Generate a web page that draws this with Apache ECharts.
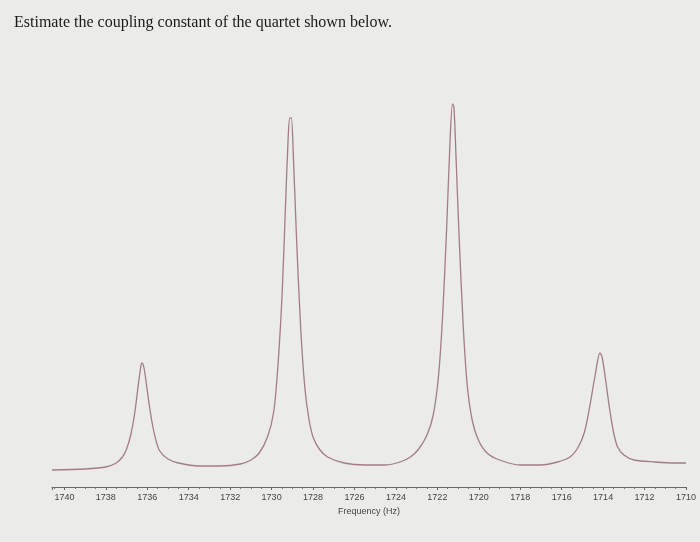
<!DOCTYPE html>
<html><head><meta charset="utf-8">
<script src="https://cdn.jsdelivr.net/npm/echarts@6/dist/echarts.min.js"></script>
<style>html,body{margin:0;padding:0;background:#ebebe9;}#c{width:700px;height:542px;}</style>
</head><body><div id="c"></div>
<script>
const title = "Estimate the coupling constant of the quartet shown below.";
const axisName = "Frequency (Hz)";
const freq = [1740.6,1739,1738,1737.5,1737.2,1737,1736.8,1736.6,1736.45,1736.3,1736.25,1736.15,1736,1735.8,1735.6,1735.4,1735,1734.5,1733.5,1732.5,1731.5,1731,1730.6,1730.2,1729.9,1729.7,1729.5,1729.35,1729.2,1729.12,1729.05,1728.95,1728.8,1728.6,1728.4,1728.2,1728,1727.7,1727.3,1726.5,1725.5,1724.5,1723.8,1723.3,1722.9,1722.5,1722.2,1721.95,1721.75,1721.55,1721.4,1721.27,1721.2,1721.1,1720.95,1720.75,1720.55,1720.3,1720,1719.6,1719,1718,1717,1716.2,1715.6,1715.2,1714.9,1714.65,1714.4,1714.15,1714.05,1713.9,1713.7,1713.5,1713.3,1713,1712.5,1711.5,1710.5,1710];
const intensity = [17,18,20,24,30,38,52,75,100,122,124,118,96,68,48,36,28,24,21,21,23,27,34,50,75,120,190,270,350,369,369,330,250,160,100,68,50,38,30,24,22,22,25,30,38,52,72,110,170,260,340,383,380,330,250,160,100,65,46,34,27,22,22,25,30,40,55,80,110,134,130,110,80,55,40,32,27,25,24,24];
const chart = echarts.init(document.getElementById('c'));
chart.setOption({
  backgroundColor:'#ebebe9',
  title:{text:title,left:9,top:10,textStyle:{fontFamily:'Liberation Serif',fontSize:16,fontWeight:'normal',color:'#1a1a1a'}},
  grid:{left:52,right:14,top:87,bottom:55},
  xAxis:{type:'value',inverse:true,min:1710,max:1740.6,interval:2,
    name:axisName,nameLocation:'middle',nameGap:16,nameTextStyle:{fontSize:9,color:'#444'},
    axisLine:{lineStyle:{color:'#666'}},axisTick:{length:3,lineStyle:{color:'#666'}},
    minorTick:{show:true,splitNumber:4,length:2,lineStyle:{color:'#777'}},
    axisLabel:{fontSize:9,color:'#444',margin:6,showMaxLabel:false,formatter:v=>String(v)},splitLine:{show:false}},
  yAxis:{type:'value',min:0,max:400,show:false},
  series:[{type:'line',data:freq.map((f,i)=>[f,intensity[i]]),showSymbol:false,smooth:0.3,
    lineStyle:{color:'#a27c84',width:1.3},silent:true}],
  animation:false
});
</script></body></html>
